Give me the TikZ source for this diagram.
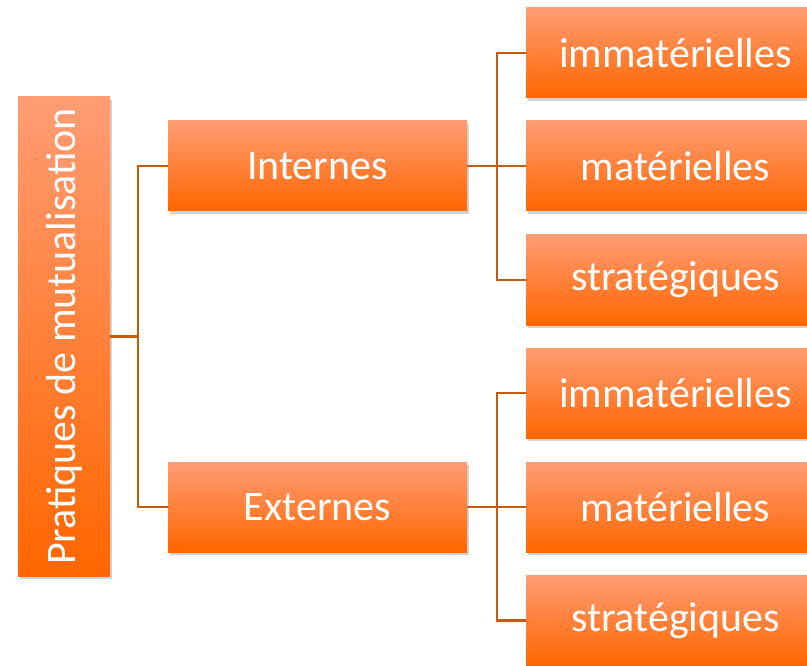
\documentclass[tikz,border=0pt]{standalone}
\usepackage{fontspec}
\setmainfont{Carlito}
\usepackage{xcolor}
\usetikzlibrary{shadows}
\definecolor{boxlight}{HTML}{FF9C74}
\definecolor{boxmid}{HTML}{FF8F5A}
\definecolor{boxdark}{HTML}{FF6600}
\definecolor{linkcol}{HTML}{C55A11}
\tikzset{
    box/.style={rectangle, inner sep=0pt, text=white, font=\fontsize{42}{50}\selectfont,
        top color=boxlight, middle color=boxmid, bottom color=boxdark, draw=none,
        drop shadow={shadow xshift=2pt, shadow yshift=-3pt, opacity=.25, fill=black!70}},
    rootbox/.style={box, minimum width=92pt, minimum height=479pt},
    groupbox/.style={box, minimum width=299pt, minimum height=90pt},
    leafbox/.style={box, minimum width=299pt, minimum height=90pt},
    link/.style={draw=linkcol, line width=2.2pt},
}

\begin{document}
\begin{tikzpicture}[x=1pt, y=-1pt]
    \useasboundingbox (0,0) rectangle (807,666);
    \clip (0,0) rectangle (807,666);

    % Nodes
    \node[rootbox] (root) at (64,336.5) {\rotatebox{90}{Pratiques de mutualisation}};
    \node[groupbox] (int) at (317.5,166) {Internes};
    \node[groupbox] (ext) at (317.5,507) {Externes};
    \node[leafbox] (int1) at (675.5,53) {immatérielles};
    \node[leafbox] (int2) at (675.5,166) {matérielles};
    \node[leafbox] (int3) at (675.5,280) {stratégiques};
    \node[leafbox] (ext1) at (675.5,393) {immatérielles};
    \node[leafbox] (ext2) at (675.5,507) {matérielles};
    \node[leafbox] (ext3) at (675.5,620.5) {stratégiques};

    % Links
    \draw[link] (root.east) -- ++(28,0) coordinate (fork);
    \draw[link] (int.west) -| (fork) |- (ext.west);
    \draw[link] (int.east) -- (int2.west);
    \draw[link] (int1.west) -- ++(-29,0) |- (int3.west);
    \draw[link] (ext.east) -- (ext2.west);
    \draw[link] (ext1.west) -- ++(-29,0) |- (ext3.west);

\end{tikzpicture}
\end{document}
